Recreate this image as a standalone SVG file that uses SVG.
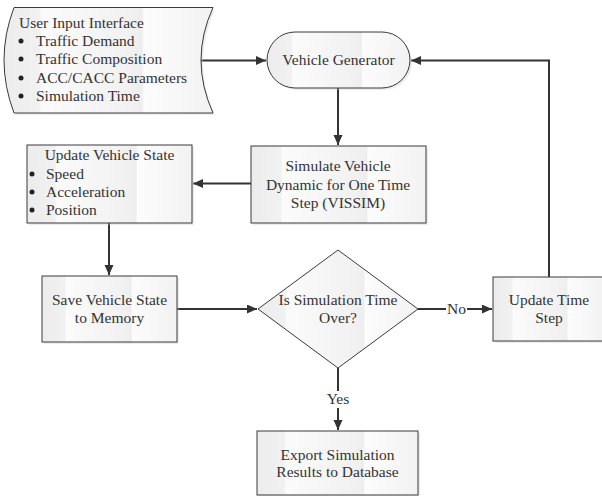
<svg xmlns="http://www.w3.org/2000/svg" width="602" height="496" viewBox="0 0 602 496">
<style>
  .shape { fill: url(#g); stroke: #3a3a3a; stroke-width: 1; }
  .shadow { fill: #c8c8c8; opacity: 0.35; }
  .t { font-family: "Liberation Serif", "Times New Roman", serif; font-size: 15.5px; fill: #333333; }
  .c { text-anchor: middle; }
  .conn { fill: none; stroke: #333333; stroke-width: 2; marker-end: url(#arr); }
  .bul { fill: #222222; }
  .lbl { fill: #ffffff; }
</style>
<defs>
  <linearGradient id="g" x1="0" y1="0" x2="1" y2="0">
    <stop offset="0" stop-color="#ececec"/>
    <stop offset="0.17" stop-color="#f1f1f1"/>
    <stop offset="0.18" stop-color="#fbfbfb"/>
    <stop offset="0.6" stop-color="#f1f1f1"/>
    <stop offset="0.66" stop-color="#eeeeee"/>
    <stop offset="0.67" stop-color="#fcfcfc"/>
    <stop offset="1" stop-color="#f2f2f2"/>
  </linearGradient>
  <marker id="arr" markerUnits="userSpaceOnUse" markerWidth="11" markerHeight="10" refX="10" refY="4.5" orient="auto">
    <path d="M0,0 L10,4.5 L0,9 Z" fill="#333333"/>
  </marker>
</defs>
<rect width="602" height="496" fill="#ffffff"/>

<g id="connectors">
  <path class="conn" d="M201,60.5 H266"/>
  <path class="conn" d="M338,88 V145"/>
  <path class="conn" d="M251,183.5 H193"/>
  <path class="conn" d="M109,223 V275"/>
  <path class="conn" d="M177,309 H257"/>
  <path class="conn" d="M418,309 H492"/>
  <path class="conn" d="M549,277 V60.5 H411"/>
  <path class="conn" d="M338,368 V430"/>
  <rect class="lbl" x="446" y="300" width="21" height="17"/>
  <text class="t c" x="456.5" y="314">No</text>
  <rect class="lbl" x="323" y="391" width="30" height="17"/>
  <text class="t c" x="338" y="404">Yes</text>
</g>

<g id="input">
  <path class="shadow" d="M16,9.5 L215,9.5 Q191,62 215,115 L16,115 Q-4,62 16,9.5 Z"/>
  <path class="shape" d="M14,7.5 L213,7.5 Q189,60 213,113 L14,113 Q-6,60 14,7.5 Z"/>
  <text class="t" x="19" y="28">User Input Interface</text>
  <circle class="bul" cx="21" cy="41" r="2.5"/>
  <text class="t" x="36" y="46">Traffic Demand</text>
  <circle class="bul" cx="21" cy="59" r="2.5"/>
  <text class="t" x="36" y="64">Traffic Composition</text>
  <circle class="bul" cx="21" cy="78" r="2.5"/>
  <text class="t" x="36" y="83">ACC/CACC Parameters</text>
  <circle class="bul" cx="21" cy="96" r="2.5"/>
  <text class="t" x="36" y="101">Simulation Time</text>
</g>

<g id="generator">
  <rect class="shadow" x="269" y="34" width="143" height="56" rx="28"/>
  <rect class="shape" x="267" y="32" width="143" height="56" rx="28"/>
  <text class="t c" x="338.5" y="65">Vehicle Generator</text>
</g>

<g id="simulate">
  <rect class="shadow" x="253" y="148" width="175" height="77"/>
  <rect class="shape" x="251" y="146" width="175" height="77"/>
  <text class="t c" x="338" y="171">Simulate Vehicle</text>
  <text class="t c" x="338" y="190">Dynamic for One Time</text>
  <text class="t c" x="338" y="208">Step (VISSIM)</text>
</g>

<g id="update-state">
  <rect class="shadow" x="29" y="147" width="165" height="78"/>
  <rect class="shape" x="27" y="145" width="165" height="78"/>
  <text class="t c" x="109.5" y="160">Update Vehicle State</text>
  <circle class="bul" cx="32" cy="174" r="2.5"/>
  <text class="t" x="46" y="179">Speed</text>
  <circle class="bul" cx="32" cy="192" r="2.5"/>
  <text class="t" x="46" y="197">Acceleration</text>
  <circle class="bul" cx="32" cy="210" r="2.5"/>
  <text class="t" x="46" y="215">Position</text>
</g>

<g id="save">
  <rect class="shadow" x="44" y="278" width="135" height="66"/>
  <rect class="shape" x="42" y="276" width="135" height="66"/>
  <text class="t c" x="109.5" y="305">Save Vehicle State</text>
  <text class="t c" x="109.5" y="323">to Memory</text>
</g>

<g id="decision">
  <path class="shape" d="M338,250 L418,309 L338,368 L258,309 Z"/>
  <text class="t c" x="338" y="305">Is Simulation Time</text>
  <text class="t c" x="338" y="323">Over?</text>
</g>

<g id="update-time">
  <rect class="shadow" x="495" y="279" width="112" height="64"/>
  <rect class="shape" x="493" y="277" width="112" height="64"/>
  <text class="t c" x="549" y="305">Update Time</text>
  <text class="t c" x="549" y="323">Step</text>
</g>

<g id="export">
  <rect class="shadow" x="259" y="433" width="161" height="64"/>
  <rect class="shape" x="257" y="431" width="161" height="64"/>
  <text class="t c" x="337.5" y="460">Export Simulation</text>
  <text class="t c" x="337.5" y="477">Results to Database</text>
</g>
</svg>
